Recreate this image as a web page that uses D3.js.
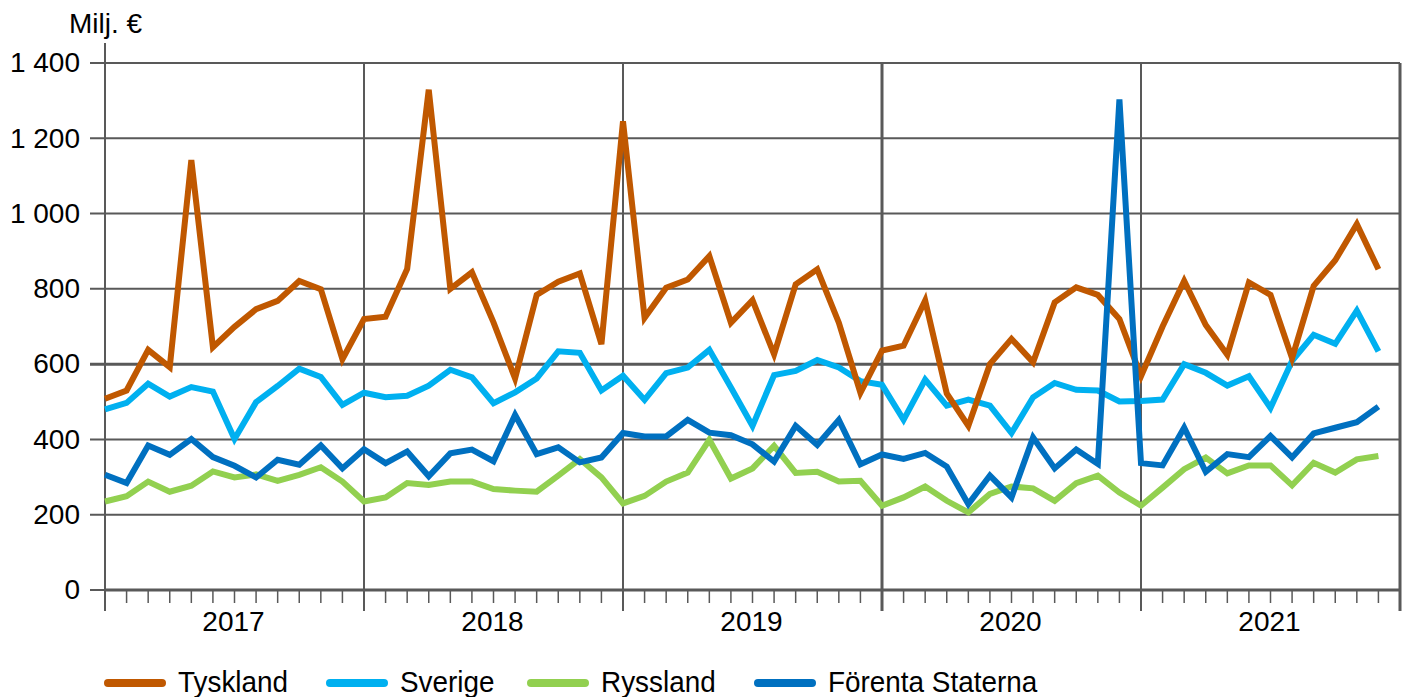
<!DOCTYPE html>
<html>
<head>
<meta charset="utf-8">
<script src="https://cdn.jsdelivr.net/npm/d3@7/dist/d3.min.js"></script>
<style>
  html, body { margin: 0; padding: 0; background: #fff; }
  svg { display: block; font-family: "Liberation Sans", Arial, sans-serif; }
</style>
</head>
<body>
<svg id="chart" width="1414" height="697"></svg>
<script>
// Monthly values, million euro, January 2017 – December 2021
const years = ["2017", "2018", "2019", "2020", "2021"];
const yTicks = [0, 200, 400, 600, 800, 1000, 1200, 1400];

const tyskland = [
  508, 530, 638, 592, 1142, 645, 699, 746, 768, 821, 799, 613,
  720, 726, 853, 1329, 800, 844, 711, 562, 784, 819, 841, 653,
  1245, 723, 803, 825, 887, 710, 770, 626, 812, 852, 710, 524,
  636, 649, 769, 522, 436, 600, 667, 605, 764, 804, 784, 720,
  568, 700, 821, 704, 625, 817, 784, 616, 808, 876, 972, 852
];
const sverige = [
  480, 497, 548, 514, 539, 527, 401, 499, 542, 588, 566, 492,
  524, 512, 516, 543, 585, 565, 496, 525, 562, 634, 630, 530,
  569, 505, 576, 591, 638, 538, 436, 571, 582, 611, 591, 555,
  545, 452, 559, 490, 506, 490, 417, 512, 550, 532, 530, 501,
  502, 506, 600, 577, 543, 568, 484, 609, 678, 654, 742, 634
];
const ryssland = [
  235, 249, 288, 261, 277, 315, 299, 307, 290, 306, 326, 288,
  235, 246, 284, 279, 288, 288, 268, 264, 261, 304, 348, 299,
  230, 250, 288, 312, 399, 296, 323, 383, 311, 314, 288, 290,
  224, 246, 275, 237, 206, 255, 275, 270, 237, 284, 304, 259,
  224, 272, 321, 352, 310, 331, 331, 278, 338, 312, 347, 356
];
const forentaStaterna = [
  306, 284, 384, 359, 401, 353, 330, 299, 346, 333, 384, 323,
  374, 337, 368, 302, 363, 373, 342, 465, 361, 379, 339, 352,
  417, 408, 408, 452, 418, 411, 387, 341, 436, 385, 452, 334,
  360, 348, 364, 328, 228, 304, 246, 405, 323, 373, 335, 1303,
  337, 331, 431, 314, 361, 353, 409, 352, 416, 431, 446, 487
];

const series = [
  { name: "Sverige", values: sverige, color: "#00B0F0" },
  { name: "Tyskland", values: tyskland, color: "#C05800" },
  { name: "Ryssland", values: ryssland, color: "#92D050" },
  { name: "Förenta Staterna", values: forentaStaterna, color: "#0070C0" }
];
const legendOrder = ["Tyskland", "Sverige", "Ryssland", "Förenta Staterna"];

const months = years.flatMap(yr => d3.range(12).map(m => `${yr}-${m + 1}`));

const svg = d3.select("#chart");
const plotLeft = 105, plotRight = 1400, plotTop = 63, plotBottom = 590;
const gridColor = "#595959";

const x = d3.scaleLinear().domain([0, months.length]).range([plotLeft, plotRight]);
const y = d3.scaleLinear().domain([0, 1400]).range([plotBottom, plotTop]);

// horizontal gridlines with short ticks to the left
svg.append("g").selectAll("line").data(yTicks).join("line")
  .attr("x1", plotLeft - 15).attr("x2", plotRight)
  .attr("y1", d => y(d)).attr("y2", d => y(d))
  .attr("stroke", gridColor)
  .attr("stroke-width", d => d === 600 ? 3 : 2);

// y tick labels
svg.append("g").selectAll("text").data(yTicks).join("text")
  .attr("x", 80).attr("y", d => y(d))
  .attr("dy", "0.33em")
  .attr("text-anchor", "end")
  .attr("font-size", 28)
  .text(d => d3.format(",")(d).replace(",", "\u00a0"));

// unit label
svg.append("text").attr("x", 69).attr("y", 33)
  .attr("font-size", 28).text("Milj. €");

// year boundaries (vertical gridlines)
const yearIdx = d3.range(years.length + 1).map(i => i * 12);
svg.append("g").selectAll("line").data(yearIdx).join("line")
  .attr("x1", d => x(d)).attr("x2", d => x(d))
  .attr("y1", d => d === 0 ? 43 : plotTop).attr("y2", 611)
  .attr("stroke", gridColor)
  .attr("stroke-width", d => (d === 36 || d === 60) ? 3 : 2);

// x axis baseline
svg.append("line")
  .attr("x1", plotLeft).attr("x2", plotRight)
  .attr("y1", plotBottom).attr("y2", plotBottom)
  .attr("stroke", gridColor).attr("stroke-width", 3);

// month ticks
svg.append("g").selectAll("line")
  .data(d3.range(months.length).filter(i => i % 12 !== 0))
  .join("line")
  .attr("x1", d => x(d)).attr("x2", d => x(d))
  .attr("y1", plotBottom).attr("y2", 603)
  .attr("stroke", gridColor).attr("stroke-width", 1.5);

// year labels centred in each year
svg.append("g").selectAll("text").data(years).join("text")
  .attr("x", (d, i) => x(i * 12 + 6) - 1)
  .attr("y", 631)
  .attr("text-anchor", "middle")
  .attr("font-size", 28)
  .text(d => d);

// series lines
const line = d3.line().x((d, i) => x(i)).y(d => y(d));
svg.append("g").selectAll("path").data(series).join("path")
  .attr("d", d => line(d.values))
  .attr("fill", "none")
  .attr("stroke", d => d.color)
  .attr("stroke-width", 6)
  .attr("stroke-linejoin", "miter");

// legend
const legendX = [105, 327, 528, 755];
const lg = svg.append("g").selectAll("g")
  .data(legendOrder.map(n => series.find(s => s.name === n)))
  .join("g")
  .attr("transform", (d, i) => `translate(${legendX[i]},683)`);
lg.append("line")
  .attr("x1", 3).attr("x2", 57).attr("y1", 0).attr("y2", 0)
  .attr("stroke", d => d.color).attr("stroke-width", 8)
  .attr("stroke-linecap", "round");
lg.append("text")
  .attr("transform", "translate(73,8.5) scale(0.93,1)")
  .attr("font-size", 30)
  .text(d => d.name);
</script>
</body>
</html>
